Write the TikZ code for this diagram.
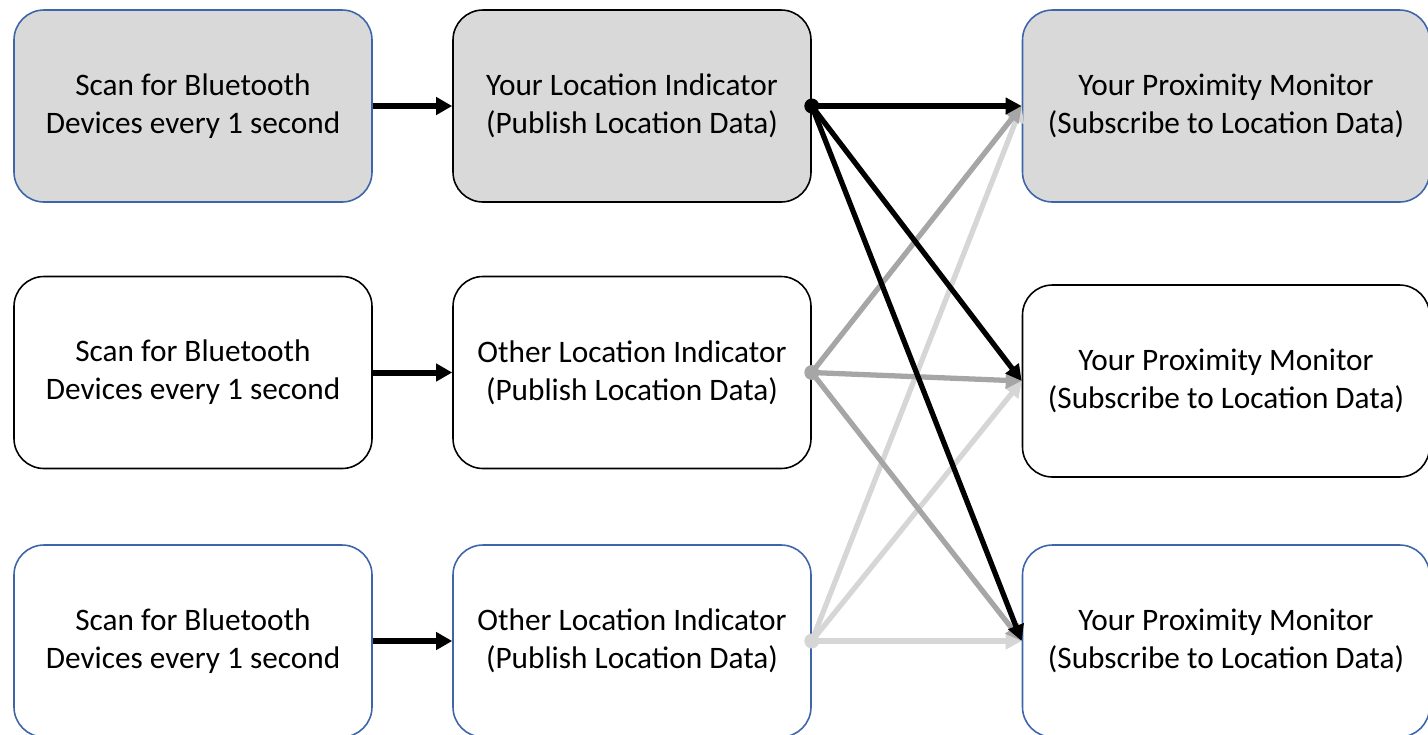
\documentclass[tikz,border=0pt]{standalone}
\usepackage{fontspec}
\setmainfont{Carlito}
\usetikzlibrary{shapes,arrows.meta}
\definecolor{boxblue}{RGB}{62,100,170}
\definecolor{boxgray}{RGB}{217,217,217}
\definecolor{midgray}{RGB}{166,166,166}
\definecolor{palegray}{RGB}{214,214,214}
\tikzstyle{block} = [rectangle, draw, line width=0.9pt, align=center,
    rounded corners=0.6cm, minimum width=7.16cm, minimum height=3.84cm,
    font=\fontsize{17.8}{21.5}\selectfont]
\tikzstyle{wide} = [minimum width=8.14cm]
\tikzstyle{arrow} = [line width=3.4pt,-{Triangle[length=0.32cm,width=0.34cm]}]
\tikzstyle{link} = [line width=3pt,-{Triangle[length=0.32cm,width=0.32cm]}]

\begin{document}
\begin{tikzpicture}[node distance = 2cm, auto]
    \useasboundingbox (0,0) rectangle (28.56,-14.68);
    % Place nodes
    \node [block, draw=boxblue, fill=boxgray] (scan1) at (3.86,-2.12) {Scan for Bluetooth \\ Devices every 1 second};
    \node [block, fill=boxgray, right of=scan1, node distance=8.78cm] (loc1) {Your Location Indicator \\ (Publish Location Data)};
    \node [block, wide, draw=boxblue, fill=boxgray, right of=loc1, node distance=11.88cm] (pm1) {Your Proximity Monitor \\ (Subscribe to Location Data)};
    \node [block, below of=scan1, node distance=5.33cm] (scan2) {Scan for Bluetooth \\ Devices every 1 second};
    \node [block, below of=loc1, node distance=5.33cm] (loc2) {Other Location Indicator \\ (Publish Location Data)};
    \node [block, wide, below of=pm1, node distance=5.5cm] (pm2) {Your Proximity Monitor \\ (Subscribe to Location Data)};
    \node [block, draw=boxblue, below of=scan2, node distance=5.37cm] (scan3) {Scan for Bluetooth \\ Devices every 1 second};
    \node [block, draw=boxblue, below of=loc2, node distance=5.37cm] (loc3) {Other Location Indicator \\ (Publish Location Data)};
    \node [block, wide, draw=boxblue, below of=pm2, node distance=5.2cm] (pm3) {Your Proximity Monitor \\ (Subscribe to Location Data)};
    % Draw edges
    \draw [arrow] (scan1) -- (loc1);
    \draw [arrow] (scan2) -- (loc2);
    \draw [arrow] (scan3) -- (loc3);
    \draw [link, palegray] (loc3.east) -- (pm1.west);
    \draw [link, palegray] (loc3.east) -- (pm2.west);
    \draw [link, palegray] (loc3.east) -- (pm3.west);
    \draw [link, midgray] (loc2.east) -- (pm1.west);
    \draw [link, midgray] (loc2.east) -- (pm2.west);
    \draw [link, midgray] (loc2.east) -- (pm3.west);
    \draw [link] (loc1.east) -- (pm1.west);
    \draw [link] (loc1.east) -- (pm2.west);
    \draw [link] (loc1.east) -- (pm3.west);
    \fill [palegray] (loc3.east) circle (0.15);
    \fill [midgray] (loc2.east) circle (0.15);
    \fill [black] (loc1.east) circle (0.15);
\end{tikzpicture}
\end{document}
